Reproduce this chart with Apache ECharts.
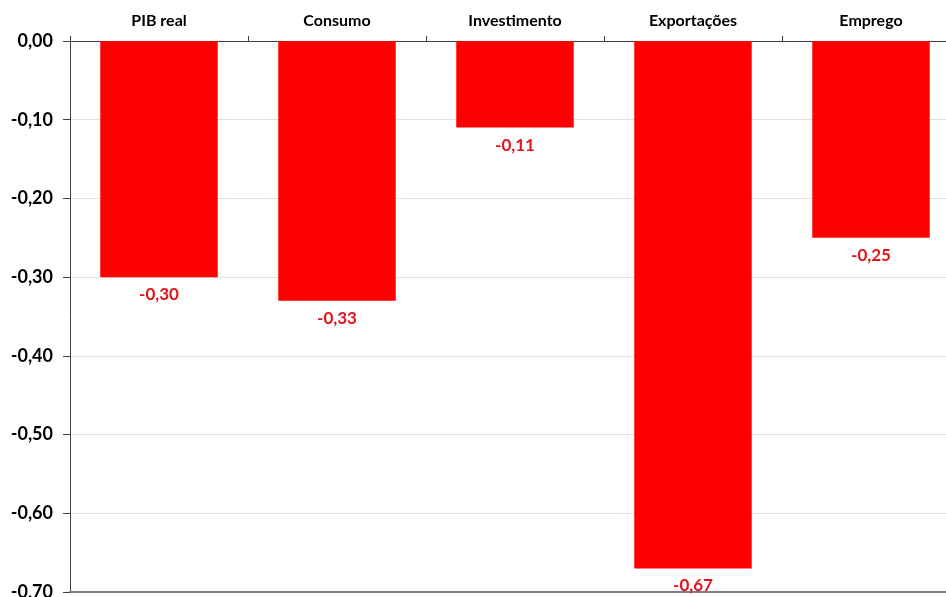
<!DOCTYPE html>
<html>
<head>
<meta charset="utf-8">
<script src="https://cdn.jsdelivr.net/npm/echarts@6/dist/echarts.min.js"></script>
<style>
  html, body { margin: 0; padding: 0; background: #fff; overflow: hidden; }
  #chart { width: 960px; height: 597px; }
</style>
</head>
<body>
<div id="chart"></div>
<script>
// categorias e valores (desvio face ao cenário base)
const categorias = ['PIB real', 'Consumo', 'Investimento', 'Exportações', 'Emprego'];
const valores = [-0.30, -0.33, -0.11, -0.67, -0.25];

const fmt = v => v.toFixed(2).replace('.', ',');
const fonte = 'Lato, "Open Sans", sans-serif';

const myChart = echarts.init(document.getElementById('chart'));
const options = {
  animation: false,
  grid: { left: 70, top: 41, right: 0, bottom: 5, outerBoundsMode: 'none' },
  xAxis: [{
    type: 'category',
    data: categorias,
    position: 'top',
    axisLine: { lineStyle: { color: '#404040', width: 1 } },
    axisTick: { show: true, length: 5, lineStyle: { color: '#404040' } },
    axisLabel: { color: '#000', fontWeight: 'bold', fontSize: 16, fontFamily: fonte, margin: 12 }
  }, {
    // linha inferior da área do gráfico
    type: 'category',
    data: categorias,
    position: 'bottom',
    axisLine: { onZero: false, lineStyle: { color: '#808080', width: 2 } },
    axisTick: { show: false },
    axisLabel: { show: false }
  }],
  yAxis: {
    type: 'value',
    min: -0.7,
    max: 0,
    interval: 0.1,
    axisLine: { show: true, lineStyle: { color: '#404040' } },
    axisTick: { show: true, length: 7, lineStyle: { color: '#404040' } },
    axisLabel: {
      color: '#000', fontWeight: 'bold', fontSize: 18, fontFamily: fonte, margin: 17,
      formatter: v => fmt(v)
    },
    splitLine: { lineStyle: { color: '#e0e0e0' } }
  },
  series: [{
    type: 'bar',
    data: valores,
    barCategoryGap: '34%',
    itemStyle: { color: '#ff0000' },
    label: {
      show: true,
      position: 'bottom',
      distance: 9,
      color: '#e3141b',
      fontWeight: 'bold',
      fontSize: 17,
      fontFamily: fonte,
      formatter: p => fmt(p.value)
    }
  }]
};
myChart.setOption(options);
</script>
</body>
</html>
